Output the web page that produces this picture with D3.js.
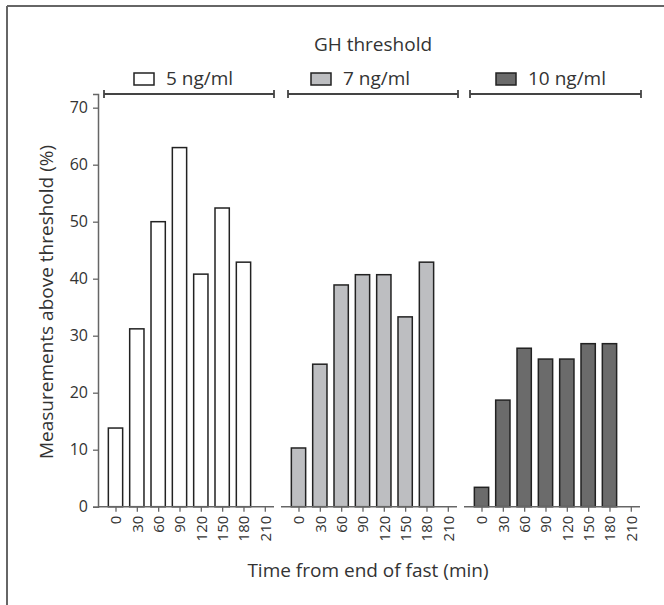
<!DOCTYPE html>
<html>
<head>
<meta charset="utf-8">
<script src="https://cdn.jsdelivr.net/npm/d3@7"></script>
<style>
  body { margin: 0; background: #fff; }
  svg { font-family: "Open Sans", sans-serif; }
</style>
</head>
<body>
<svg id="chart" width="664" height="605"></svg>
<script>
// Data
const times = [0, 30, 60, 90, 120, 150, 180, 210];
const thresholds = ["5 ng/ml", "7 ng/ml", "10 ng/ml"];
const pct5 = [13.8, 31.2, 50.0, 63.0, 40.8, 52.4, 42.9, null];
const pct7 = [10.3, 25.0, 38.9, 40.7, 40.7, 33.3, 42.9, null];
const pct10 = [3.4, 18.7, 27.8, 25.9, 25.9, 28.6, 28.6, null];
const yTicks = [0, 10, 20, 30, 40, 50, 60, 70];

const series = [pct5, pct7, pct10];
const fills = ["#ffffff", "#bdbec1", "#6b6b6b"];

const svg = d3.select("#chart");
const textColor = "#333";
const axisColor = "#666";

// outer frame (only top & left are visible in the crop)
svg.append("line").attr("x1", 7).attr("x2", 664).attr("y1", 6).attr("y2", 6)
  .attr("stroke", "#666").attr("stroke-width", 2);
svg.append("line").attr("x1", 7).attr("x2", 7).attr("y1", 6).attr("y2", 605)
  .attr("stroke", "#666").attr("stroke-width", 2);

// y axis
const y = d3.scaleLinear().domain([0, 72.4]).range([506.7, 94]);
const yAxis = svg.append("g")
  .attr("transform", "translate(98,0)")
  .call(d3.axisLeft(y).tickValues(yTicks).tickSizeOuter(0).tickSize(5).tickPadding(5));
yAxis.select(".domain").attr("stroke", axisColor).attr("stroke-width", 1.5);
yAxis.selectAll(".tick line").attr("stroke", axisColor).attr("stroke-width", 1.3);
yAxis.selectAll(".tick text").attr("fill", textColor)
  .style("font-size", "16px").style("font-family", "Open Sans");

// panels
const panelLeft = [98, 281, 464];
const panelWidth = 176;
const firstOffset = 17.5;
const step = 21.33;

series.forEach((vals, i) => {
  const left = panelLeft[i];
  const x = d3.scaleLinear()
    .domain([0, 210])
    .range([left + firstOffset, left + firstOffset + step * 7]);
  const barW = 14.3;

  const g = svg.append("g");
  g.selectAll("rect.bar")
    .data(times.map((t, j) => ({ t, v: vals[j] })).filter(d => d.v !== null))
    .enter().append("rect")
    .attr("class", "bar")
    .attr("x", d => x(d.t) - barW / 2)
    .attr("width", barW)
    .attr("y", d => y(d.v))
    .attr("height", d => y(0) - y(d.v))
    .attr("fill", fills[i])
    .attr("stroke", "#222")
    .attr("stroke-width", 1.5);

  const xAxis = svg.append("g")
    .attr("transform", `translate(0,${y(0)})`)
    .call(d3.axisBottom(x).tickValues(times).tickSize(5).tickSizeOuter(0));
  xAxis.select(".domain")
    .attr("d", `M${left},0H${left + panelWidth}`)
    .attr("stroke", axisColor).attr("stroke-width", 1.5);
  xAxis.selectAll(".tick line").attr("stroke", axisColor).attr("stroke-width", 1.3);
  xAxis.selectAll(".tick text")
    .attr("fill", textColor)
    .style("font-size", "15px").style("font-family", "Open Sans")
    .attr("text-anchor", "end")
    .attr("transform", "rotate(-90)")
    .attr("x", -9).attr("y", 0).attr("dy", "0.35em");
});

// legend brackets
const bracketX = [[104, 274], [288, 458], [470, 641]];
const swatchX = [134, 311, 496];
const bracketY = 94;
bracketX.forEach((b, i) => {
  const lg = svg.append("g").attr("stroke", "#444").attr("stroke-width", 1.8);
  lg.append("line").attr("x1", b[0]).attr("x2", b[1]).attr("y1", bracketY).attr("y2", bracketY);
  lg.append("line").attr("x1", b[0]).attr("x2", b[0]).attr("y1", bracketY - 4).attr("y2", bracketY + 4);
  lg.append("line").attr("x1", b[1]).attr("x2", b[1]).attr("y1", bracketY - 4).attr("y2", bracketY + 4);

  svg.append("rect")
    .attr("x", swatchX[i]).attr("y", 73)
    .attr("width", 20).attr("height", 12)
    .attr("fill", fills[i]).attr("stroke", "#222").attr("stroke-width", 1.5);
  svg.append("text")
    .attr("x", swatchX[i] + 32).attr("y", 85)
    .attr("fill", textColor).style("font-size", "19px")
    .text(thresholds[i]);
});

svg.append("text")
  .attr("x", 373).attr("y", 51)
  .attr("text-anchor", "middle")
  .attr("fill", textColor).style("font-size", "19px")
  .text("GH threshold");

// axis titles
svg.append("text")
  .attr("x", 368).attr("y", 577)
  .attr("text-anchor", "middle")
  .attr("fill", textColor).style("font-size", "19px")
  .text("Time from end of fast (min)");

svg.append("text")
  .attr("transform", "translate(53,302) rotate(-90)")
  .attr("text-anchor", "middle")
  .attr("fill", textColor).style("font-size", "19px")
  .text("Measurements above threshold (%)");
</script>
</body>
</html>
